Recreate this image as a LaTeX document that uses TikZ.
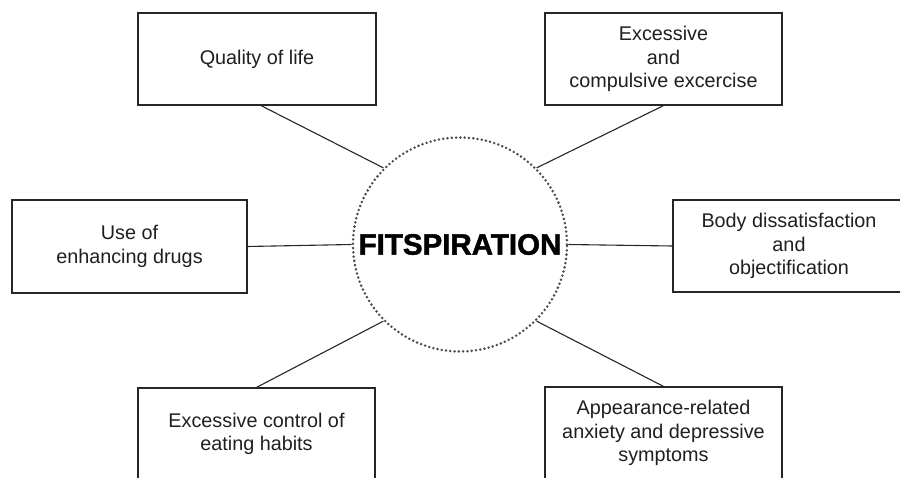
\documentclass[tikz,border=0pt]{standalone}
\usepackage{fontspec}
\setmainfont{Liberation Sans}
\newfontfamily\heavyfont[FakeBold=1.6]{Liberation Sans}
\begin{document}
\begin{tikzpicture}[x=1pt,y=-1pt,
  topic/.style={draw=black!85,line width=1.2pt,rectangle,minimum width=237pt,minimum height=92pt,
    align=center,font=\fontsize{19.8}{23.5}\selectfont,text=black!88,inner sep=0pt},
  hub/.style={circle,minimum size=214pt,inner sep=0pt,draw=black!70,line width=2.8pt,
    dash pattern=on 0pt off 4.3pt,line cap=round,font=\fontsize{29.5}{30}\heavyfont\bfseries},
  link/.style={draw=black!85,line width=1.1pt}]
\useasboundingbox (0,0) rectangle (900,477);
\clip (0,0) rectangle (900,477);
\node[hub] (fit) at (460,244.5) {FITSPIRATION};
\node[topic,minimum width=238pt] (qol) at (257,59) {Quality of life};
\node[topic] (exc) at (663.5,59) {Excessive\\and\\compulsive excercise};
\node[topic,minimum width=235pt,minimum height=93pt] (use) at (129.5,246.5) {Use of\\enhancing drugs};
\node[topic,minimum width=232pt] (body) at (789,246) {Body dissatisfaction\\and\\objectification};
\node[topic] (ctrl) at (256.5,434) {Excessive control of\\eating habits};
\node[topic] (app) at (663.5,433) {Appearance-related\\anxiety and depressive\\symptoms};
\draw[link] ([xshift=4pt]qol.south) -- (fit.135);
\draw[link] (exc.south) -- (fit.45);
\draw[link] (use.east) -- (fit.west);
\draw[link] (fit.east) -- (body.west);
\draw[link] (ctrl.north) -- (fit.225);
\draw[link] (app.north) -- (fit.315);
\end{tikzpicture}
\end{document}
